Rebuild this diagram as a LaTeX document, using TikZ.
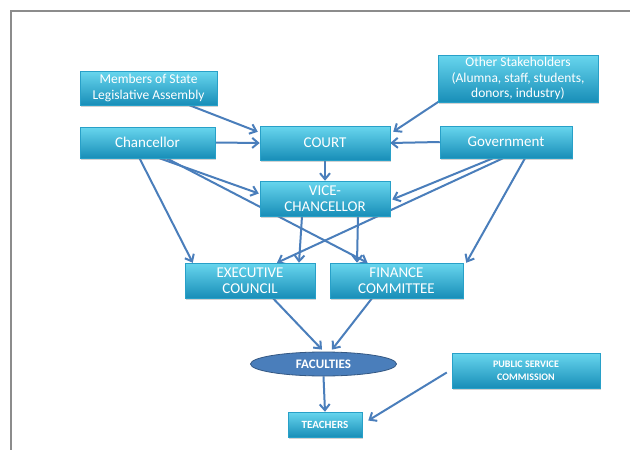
\documentclass[tikz,border=0pt]{standalone}
\usepackage{fontspec}
\setmainfont{Carlito}
\usetikzlibrary{arrows.meta,shadows,calc,backgrounds,shapes.geometric}
\definecolor{arr}{RGB}{74,126,187}
\definecolor{boxtop}{RGB}{104,214,238}
\definecolor{boxbot}{RGB}{24,142,184}
\definecolor{boxedge}{RGB}{40,160,200}
\definecolor{frame}{RGB}{140,140,140}
\tikzset{
  box/.style={rectangle, top color=boxtop, bottom color=boxbot, draw=boxedge, line width=0.5pt,
    text=white, align=center, inner sep=0pt,
    drop shadow={opacity=0.35, shadow xshift=1pt, shadow yshift=-2pt}},
  bigtxt/.style={font=\fontsize{15}{16}\selectfont},
  midtxt/.style={font=\fontsize{13.5}{15.5}\selectfont},
  link/.style={draw=arr, line width=2pt, -{Straight Barb[length=6pt,width=10pt]}},
}
\begin{document}
\begin{tikzpicture}[x=1pt,y=-1pt]
\useasboundingbox (0,0) rectangle (630,450);

\node[box, midtxt, minimum width=137pt, minimum height=34pt] (mem) at (148.5,88) {Members of State\\Legislative Assembly};
\node[box, midtxt, minimum width=160pt, minimum height=47pt] (oth) at (518,78.5) {Other Stakeholders\\(Alumna, staff, students,\\donors, industry)};
\node[box, bigtxt, minimum width=135pt, minimum height=31pt] (chan) at (147.5,142.5) {Chancellor};
\node[box, bigtxt, minimum width=130pt, minimum height=34pt] (court) at (325,143) {COURT};
\node[box, bigtxt, minimum width=132pt, minimum height=32pt] (gov) at (506,142) {Government};
\node[box, bigtxt, minimum width=130pt, minimum height=35pt] (vc) at (325,198.5) {VICE-\\CHANCELLOR};
\node[box, bigtxt, minimum width=130pt, minimum height=35pt] (exec) at (250,280.5) {EXECUTIVE\\COUNCIL};
\node[box, bigtxt, minimum width=133pt, minimum height=35pt] (fin) at (396.5,280.5) {FINANCE\\COMMITTEE};
\node[ellipse, fill=arr, draw=arr!70!black, line width=0.8pt, text=white, inner sep=0pt,
      minimum width=146pt, minimum height=24pt, font=\fontsize{13}{14}\selectfont\bfseries] (fac) at (323.5,364) {FACULTIES};
\node[box, font=\fontsize{10}{13}\selectfont\bfseries, minimum width=148pt, minimum height=35pt] (psc) at (526,370.5) {PUBLIC SERVICE\\COMMISSION};
\node[box, font=\fontsize{11}{12}\selectfont\bfseries, minimum width=74pt, minimum height=25pt] (tea) at (325,424.5) {TEACHERS};

\begin{scope}[on background layer]
\fill[white] (0,0) rectangle (630,450);
\draw[frame, line width=1.5pt] (11,450) -- (11,11) -- (630,11);
\draw[link] ($(mem.south)+(41,0)$) -- ($(court.north west)+(-2,6)$);
\draw[link] ($(oth.south west)+(3,-2)$) -- ($(court.north east)+(3,6)$);
\draw[link] (chan.east) -- (court.west);
\draw[link] (gov.west) -- (court.east);
\draw[link] (court.south) -- (vc.north);
\draw[link] ($(chan.south)+(12,0)$) -- ($(vc.west)+(-1,-5)$);
\draw[link] ($(chan.south)+(19,0)$) -- ($(fin.north)+(-29,0)$);
\draw[link] ($(chan.south)+(-8,0)$) -- ($(exec.north west)+(8,0)$);
\draw[link] ($(gov.south)+(-13,0)$) -- ($(vc.east)+(2,1)$);
\draw[link] ($(gov.south)+(-3,0)$) -- ($(exec.north)+(27,0)$);
\draw[link] ($(gov.south)+(19,0)$) -- ($(fin.north east)+(3,0)$);
\draw[link] ($(vc.south)+(-23,0)$) -- ($(exec.north)+(49,0)$);
\draw[link] ($(vc.south)+(33,0)$) -- ($(fin.north)+(-39.5,0)$);
\draw[link] ($(exec.south)+(23,0)$) -- ($(fac.north)+(-1.5,-2)$);
\draw[link] ($(fin.south)+(-24.5,0)$) -- ($(fac.north)+(8.5,-2)$);
\draw[link] (fac.south) -- (tea.north);
\draw[link] ($(psc.west)+(-5,2)$) -- ($(tea.east)+(6,-4)$);
\end{scope}
\end{tikzpicture}
\end{document}
